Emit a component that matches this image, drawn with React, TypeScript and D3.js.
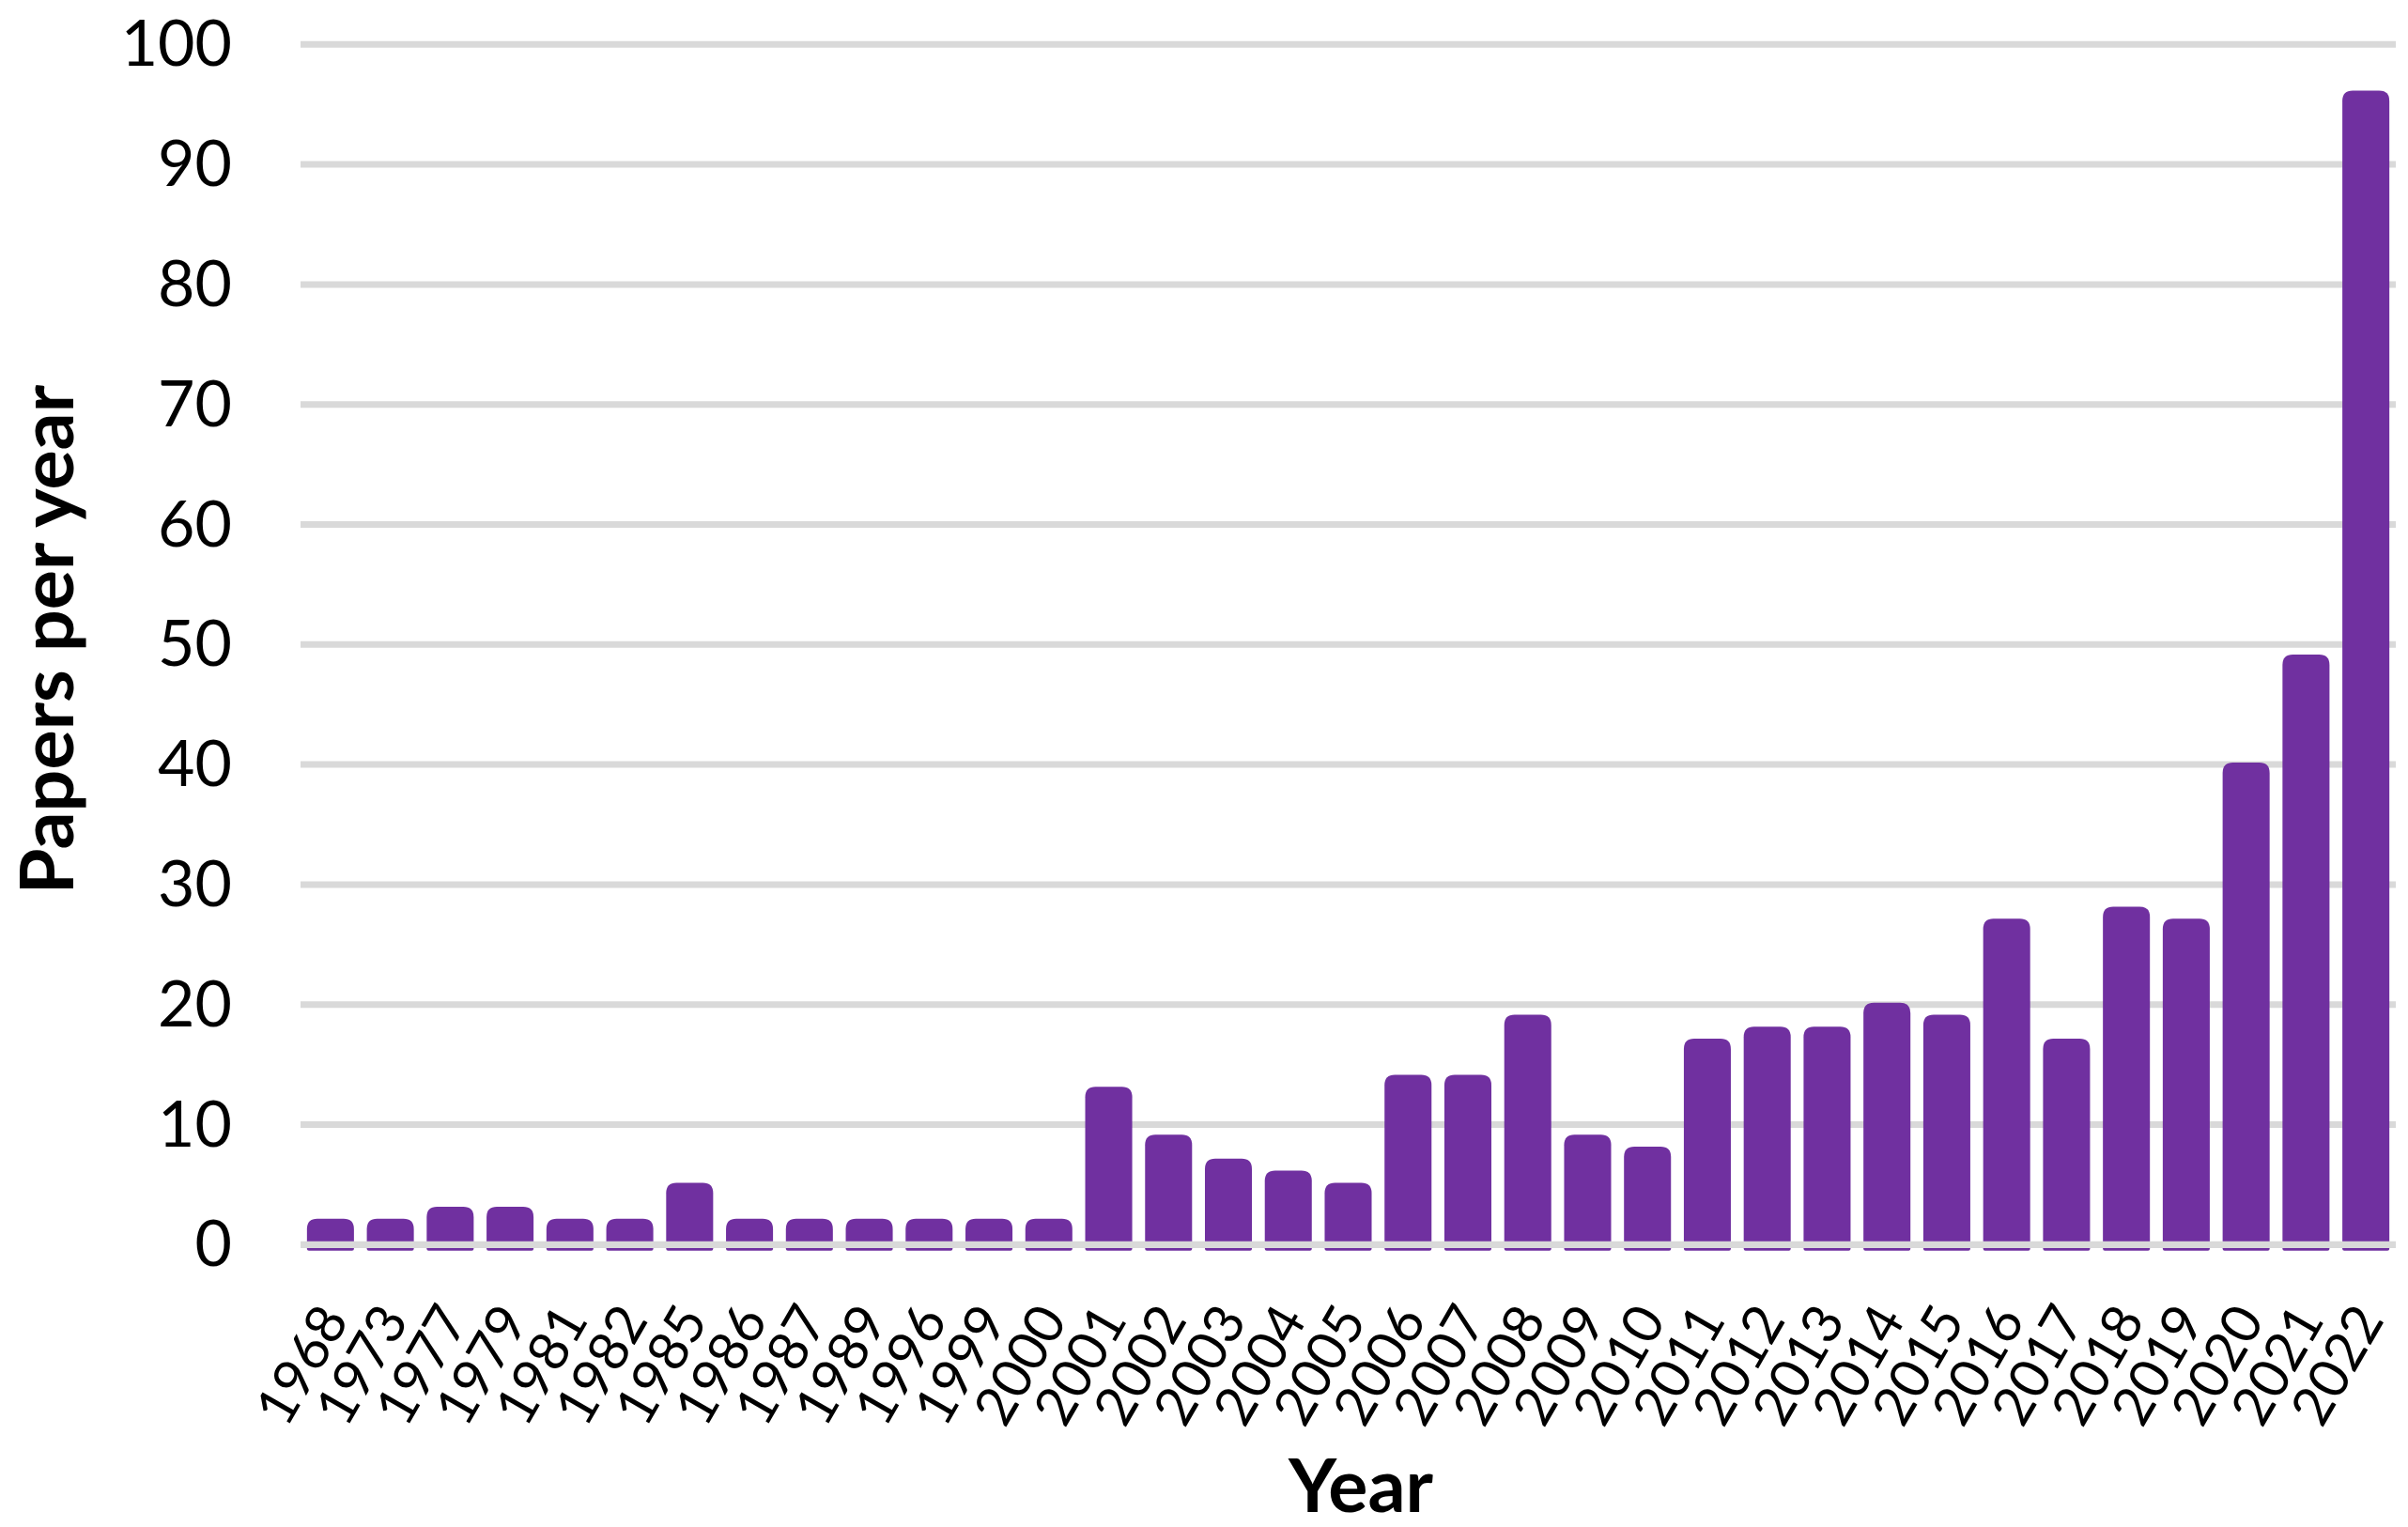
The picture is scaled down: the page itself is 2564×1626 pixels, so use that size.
import React from "react";
import * as d3 from "d3";

const years = ["1968","1973","1977","1979","1981","1982","1985","1986","1987","1989","1996","1999","2000","2001","2002","2003","2004","2005","2006","2007","2008","2009","2010","2011","2012","2013","2014","2015","2016","2017","2018","2019","2020","2021","2022"];
const papers = [2,2,3,3,2,2,5,2,2,2,2,2,2,13,9,7,6,5,14,14,19,9,8,17,18,18,20,19,27,17,28,27,40,49,96];
const yTicks = [0,10,20,30,40,50,60,70,80,90,100];

const W = 2564, H = 1626;
const FONT = "Lato, 'Open Sans', sans-serif";
const BAR = "#7030A0";
const GRID = "#d9d9d9";

function barPath(x0: number, x1: number, top: number, bottom: number, r: number, rb: number) {
  const h = bottom - top;
  const rr = Math.min(r, h / 2, (x1 - x0) / 2);
  return `M${x0},${bottom - rb} L${x0},${top + rr} Q${x0},${top} ${x0 + rr},${top} L${x1 - rr},${top} Q${x1},${top} ${x1},${top + rr} L${x1},${bottom - rb} Q${x1},${bottom} ${x1 - rb},${bottom} L${x0 + rb},${bottom} Q${x0},${bottom} ${x0},${bottom - rb} Z`;
}

export default function App() {
  const x = d3.scaleBand<string>().domain(years).range([320, 2551]).paddingInner(0.215).paddingOuter(0.1075);
  const y = d3.scaleLinear().domain([0, 100]).range([1325.3, 47.3]);
  const y0 = y(0);
  return (
    <svg width={W} height={H} style={{ position: "absolute", left: 0, top: 0, background: "#fff" }}>
      <rect x={0} y={0} width={W} height={H} fill="#fff" />
      {yTicks.filter(t => t !== 0).map(t => (
        <line key={"g" + t} x1={320} x2={2551} y1={y(t)} y2={y(t)} stroke={GRID} strokeWidth={7} />
      ))}
      {years.map((yr, i) => {
        const x0 = x(yr)!;
        const x1 = x0 + x.bandwidth();
        return <path key={yr} d={barPath(x0, x1, y(papers[i]) - 2, y0 + 6.4, 11, 2)} fill={BAR} />;
      })}
      <line x1={320} x2={2551} y1={y0} y2={y0} stroke={GRID} strokeWidth={7.3} />
      {yTicks.map(t => (
        <text key={"t" + t} x={247} y={y(t) + 23} textAnchor="end" fontFamily={FONT} fontSize={68} fill="#000">{t}</text>
      ))}
      {years.map(yr => {
        const cx = x(yr)! + x.bandwidth() / 2;
        return (
          <text key={"l" + yr} transform={`translate(${cx + 1},1394) rotate(-60)`} textAnchor="end" dominantBaseline="central" fontFamily={FONT} fontSize={58} fill="#000">{yr}</text>
        );
      })}
      <text x={1449} y={1610} textAnchor="middle" fontFamily={FONT} fontWeight={700} fontSize={79} fill="#000">Year</text>
      <text transform="translate(78,681) rotate(-90)" textAnchor="middle" fontFamily={FONT} fontWeight={700} fontSize={79} fill="#000">Papers per year</text>
    </svg>
  );
}
